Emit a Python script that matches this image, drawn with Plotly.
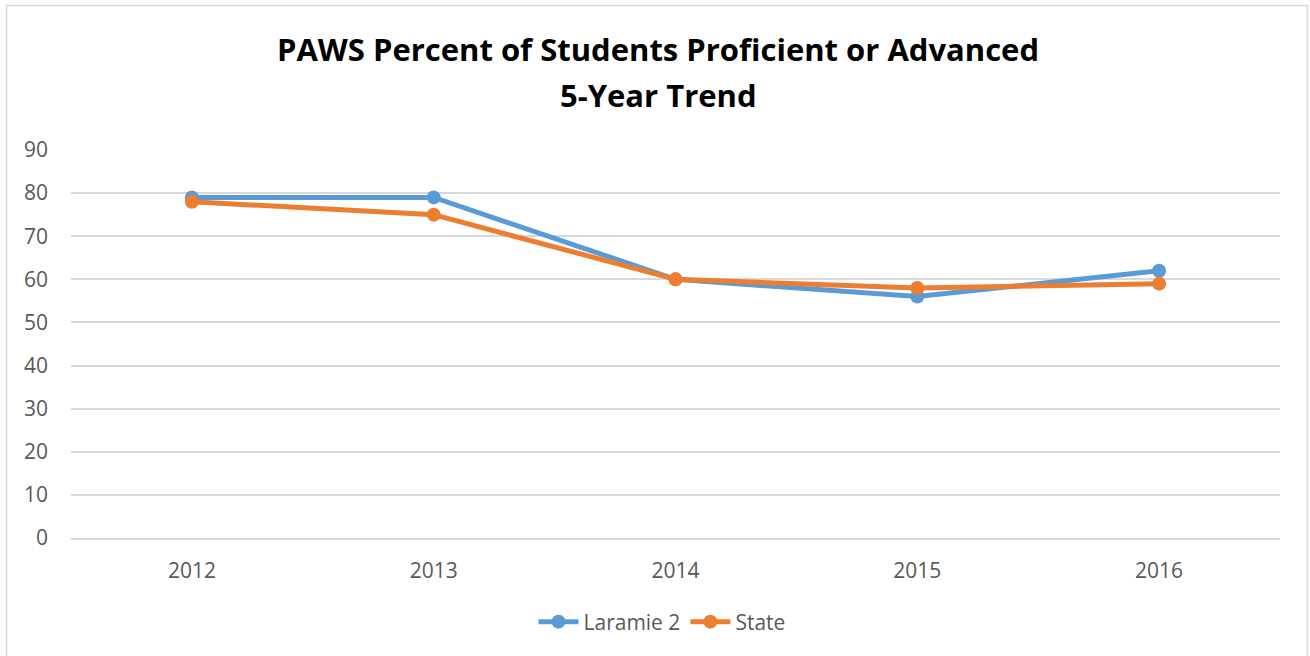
import plotly.graph_objects as go

years = ["2012", "2013", "2014", "2015", "2016"]
laramie2 = [79, 79, 60, 56, 62]
state = [78, 75, 60, 58, 59]
y_ticks = [0, 10, 20, 30, 40, 50, 60, 70, 80, 90]
title_line1 = "PAWS Percent of Students Proficient or Advanced"
title_line2 = "5-Year Trend"

FONT = "'Open Sans', sans-serif"

fig = go.Figure()
fig.add_trace(go.Scatter(x=years, y=laramie2, name="Laramie 2", mode="lines+markers",
                         line=dict(color="#5B9BD5", width=5), marker=dict(size=14, color="#5B9BD5")))
fig.add_trace(go.Scatter(x=years, y=state, name="State", mode="lines+markers",
                         line=dict(color="#ED7D31", width=5), marker=dict(size=14, color="#ED7D31")))

L, R, T, B = 71, 30, 150, 118
W, H = 1310, 656
pw, ph = W - L - R, H - T - B

def px(x):
    return (x - L) / pw

def py(y):
    return (H - B - y) / ph

fig.add_shape(type="rect", xref="paper", yref="paper",
              x0=px(6.5), x1=px(1307.5), y0=py(662), y1=py(5.5),
              line=dict(color="#D9D9D9", width=1.5), fillcolor="rgba(0,0,0,0)", layer="below")

fig.add_annotation(text=title_line2, xref="paper", yref="paper", x=px(658), y=py(95),
                   xanchor="center", yanchor="middle", showarrow=False,
                   font=dict(family=FONT, size=31, color="black", weight="bold"))

fig.update_layout(
    width=W, height=H,
    margin=dict(l=L, r=R, t=T, b=B),
    paper_bgcolor="white", plot_bgcolor="white",
    title=dict(text=title_line1, xref="container",
               x=658 / W, xanchor="center", y=1 - 50 / H, yanchor="middle",
               font=dict(family=FONT, size=31, color="black", weight="bold")),
    font=dict(family=FONT, size=20, color="#595959"),
    xaxis=dict(type="category", range=[-0.5, 4.5], showgrid=False, showline=True,
               linecolor="#D9D9D9", linewidth=1.5, ticks="", ticklabelstandoff=13,
               tickfont=dict(size=21, color="#595959")),
    yaxis=dict(range=[0, 90], tickvals=y_ticks, showgrid=True, gridcolor="#D9D9D9",
               gridwidth=1.5, zeroline=False, ticks="", ticklabelstandoff=22,
               tickfont=dict(size=21, color="#595959")),
    legend=dict(orientation="h", x=px(662), xanchor="center", y=py(622), yanchor="middle",
                font=dict(size=21, color="#595959"), itemwidth=40),
    showlegend=True,
)

fig.write_html("out.html", config={"displayModeBar": False},
               post_script="document.body.style.margin='0';document.body.style.overflow='hidden';")
